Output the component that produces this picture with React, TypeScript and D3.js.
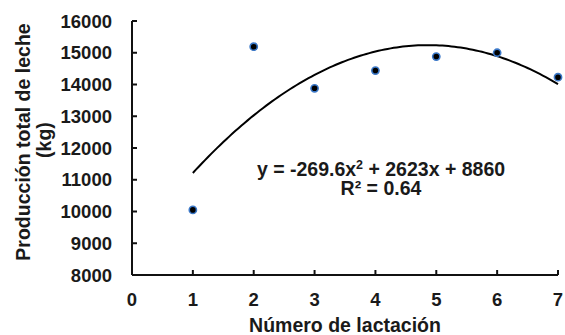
import React from "react";
import * as d3 from "d3";

// Milk production by lactation number
const lactations = [1, 2, 3, 4, 5, 6, 7];
const production = [10050, 15190, 13880, 14440, 14880, 15000, 14230];
const yTicks = [8000, 9000, 10000, 11000, 12000, 13000, 14000, 15000, 16000];
const xTicks = [0, 1, 2, 3, 4, 5, 6, 7];
// Quadratic trend coefficients: y = a x^2 + b x + c
const trendCoef = [-269.6, 2623, 8860];

const W = 565;
const H = 335;
const FONT = "'Liberation Sans', Arial, sans-serif";

export default function App() {
  const x = d3.scaleLinear().domain([0, 7]).range([132, 558]);
  const y = d3.scaleLinear().domain([8000, 16000]).range([275, 21]);

  const [a, b, c] = trendCoef;
  const trendPts = d3.range(1, 7.0001, 0.05).map((t) => [t, a * t * t + b * t + c] as [number, number]);
  const line = d3
    .line<[number, number]>()
    .x((d) => x(d[0]))
    .y((d) => y(d[1]));

  return (
    <svg width={W} height={H} style={{ position: "absolute", left: 0, top: 0, background: "#fff" }}>
      <g fontFamily={FONT} fontWeight="bold" fill="#1a1a1a">
        {/* axes */}
        <line x1={x(0)} x2={x(0)} y1={y(16000)} y2={y(8000)} stroke="#111" strokeWidth={2} />
        <line x1={x(0)} x2={x(7)} y1={y(8000)} y2={y(8000)} stroke="#111" strokeWidth={2} />
        {yTicks.map((t) => (
          <g key={"y" + t}>
            <line x1={x(0)} x2={x(0) + 5} y1={y(t)} y2={y(t)} stroke="#111" strokeWidth={2} />
            <text x={112} y={y(t) + 6.5} textAnchor="end" fontSize={18.5}>
              {t}
            </text>
          </g>
        ))}
        {xTicks.map((t) => (
          <g key={"x" + t}>
            <line x1={x(t)} x2={x(t)} y1={y(8000)} y2={y(8000) - 5} stroke="#111" strokeWidth={2} />
            <text x={x(t)} y={306} textAnchor="middle" fontSize={18.5}>
              {t}
            </text>
          </g>
        ))}

        {/* trend curve */}
        <path d={line(trendPts) ?? ""} fill="none" stroke="#000" strokeWidth={2} />

        {/* observed points */}
        {lactations.map((l, i) => (
          <circle key={l} cx={x(l)} cy={y(production[i])} r={3.6} fill="#000" stroke="#3b78c8" strokeWidth={1.6} />
        ))}

        {/* equation */}
        <text x={381} y={176} textAnchor="middle" fontSize={19.5}>
          y = -269.6x<tspan dy={-7} fontSize={12.5}>2</tspan>
          <tspan dy={7}> + 2623x + 8860</tspan>
        </text>
        <text x={381} y={195} textAnchor="middle" fontSize={19.5}>
          R² = 0.64
        </text>

        {/* axis titles */}
        <text x={345} y={332} textAnchor="middle" fontSize={19.5}>
          Número de lactación
        </text>
        <text transform={`translate(30,142) rotate(-90)`} textAnchor="middle" fontSize={19.5}>
          Producción total de leche
        </text>
        <text transform={`translate(51,140) rotate(-90)`} textAnchor="middle" fontSize={19.5}>
          (kg)
        </text>
      </g>
    </svg>
  );
}
